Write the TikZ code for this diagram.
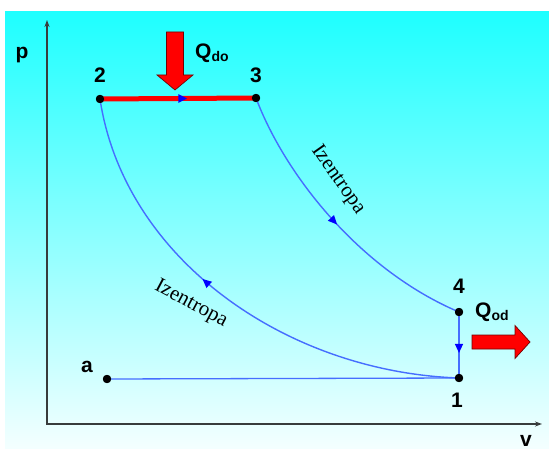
\documentclass[tikz,border=0pt]{standalone}
\usepackage{fontspec}
\setmainfont{Liberation Sans}
\newfontfamily\curvefont{Liberation Serif}
\usetikzlibrary{arrows.meta,decorations.markings}
\definecolor{bgtop}{RGB}{30,255,255}
\definecolor{bgbottom}{RGB}{244,255,255}
\definecolor{curveblue}{RGB}{70,110,255}
\definecolor{axisgray}{RGB}{55,60,60}

\begin{document}
\begin{tikzpicture}[x=1pt, y=-1pt,
  dot/.style={circle, fill=black, inner sep=0pt, minimum size=8pt},
  lbl/.style={font=\bfseries\fontsize{21}{24}\selectfont, anchor=base, inner sep=0pt},
  izlbl/.style={font=\curvefont\fontsize{21}{24}\selectfont, inner sep=0pt},
  curve/.style={draw=curveblue, line width=1.4pt},
  midarrow/.style={postaction={decorate, decoration={markings,
    mark=at position #1 with {\arrow{Triangle[length=9pt,width=8pt,color=blue]}}}}},
  heat/.style={fill=red, draw=red!45!black, line width=0.7pt, line join=miter},
  axis/.style={draw=axisgray, line width=1.6pt},
  >=Stealth]
\useasboundingbox (0,0) rectangle (549,449);
\shade[top color=bgtop, bottom color=bgbottom] (5,12) rectangle (549,449);

% axes
\coordinate (ptop) at (47,20);
\coordinate (origin) at (47,424);
\coordinate (vend) at (542,424);
\draw[axis, {Stealth[length=7pt,width=5pt]}-{Stealth[length=7pt,width=5pt]}] (ptop) -- (origin) -- (vend);
\node[lbl] (plbl) at (22,59) {p};
\node[lbl] (vlbl) at (526,446) {v};

% states
\node[dot] (p1) at (459,378) {};
\node[dot] (p2) at (100,99) {};
\node[dot] (p3) at (256,98) {};
\node[dot] (p4) at (459,312) {};
\node[dot] (pa) at (107,379) {};

% cycle
\draw[curve, line width=1.3pt] (pa.center) -- (p1.center);
\draw[curve, midarrow=0.62] (p4.center) -- (p1.center);
\draw[red, line width=5pt, midarrow=0.56] (p2.center) -- (p3.center);
\draw[curve, midarrow=0.5] (p3.center) .. controls (285,175) and (360,270) .. (p4.center);
\draw[curve, midarrow=0.57] (p1.center) .. controls (285,372) and (124,258) .. (p2.center);

% dots on top
\foreach \pt in {p1,p2,p3,p4,pa}
  \fill (\pt) circle (4.2pt);

\node[lbl] (l1) at (457,407) {1};
\node[lbl] (l2) at (100,83) {2};
\node[lbl] (l3) at (256,83) {3};
\node[lbl] (l4) at (459,294) {4};
\node[lbl] (la) at (87,372) {a};

\node[izlbl, rotate=-55] (iz34) at (338,180) {Izentropa};
\node[izlbl, rotate=-28] (iz12) at (191,304) {Izentropa};

% heat in / out
\coordinate (qin) at (175,90);
\coordinate (qout) at (530,342);
\draw[heat] (qin) -- ++(-18,-15) -- ++(9.5,0) -- ++(0,-43) -- ++(17,0)
  -- ++(0,43) -- ++(9.5,0) -- cycle;
\draw[heat] (qout) -- ++(-15,-16.5) -- ++(0,9.5) -- ++(-43,0) -- ++(0,14)
  -- ++(43,0) -- ++(0,9.5) -- cycle;
\node[lbl, anchor=base west] (qinlbl) at (195,59)
  {Q\raisebox{-3pt}{\fontsize{14}{16}\selectfont do}};
\node[lbl, anchor=base west] (qoutlbl) at (475,317)
  {Q\raisebox{-3pt}{\fontsize{14}{16}\selectfont od}};
\end{tikzpicture}
\end{document}
